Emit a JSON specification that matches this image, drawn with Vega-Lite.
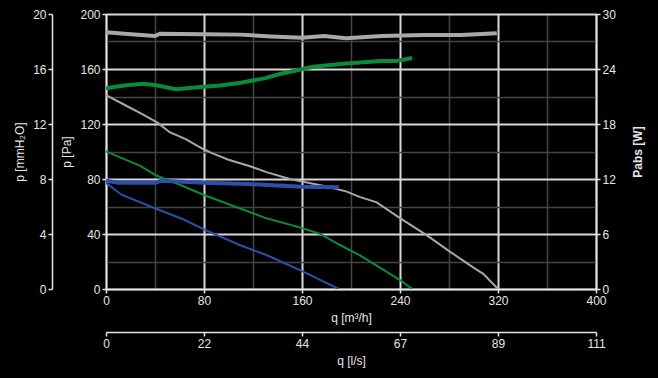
{
  "$schema": "https://vega.github.io/schema/vega-lite/v6.json",
  "width": 490,
  "height": 275,
  "autosize": {"type": "none"},
  "padding": {"left": 106, "top": 14, "right": 62, "bottom": 89},
  "background": "#000000",
  "config": {
    "view": {"stroke": null},
    "font": "Liberation Sans",
    "axis": {
      "labelFont": "Liberation Sans",
      "labelFontSize": 12,
      "labelColor": "#e6e6e6",
      "titleFont": "Liberation Sans",
      "titleFontSize": 12,
      "titleFontWeight": "normal",
      "titleColor": "#e6e6e6",
      "domainColor": "#e6e6e6",
      "domainWidth": 1.5,
      "tickColor": "#e6e6e6",
      "tickWidth": 1.5,
      "tickSize": 4,
      "labelPadding": 2
    }
  },
  "data": {
    "values": [
      {"series": "A", "kind": "p", "q": 0, "value": 141},
      {"series": "A", "kind": "p", "q": 15, "value": 134},
      {"series": "A", "kind": "p", "q": 30, "value": 127},
      {"series": "A", "kind": "p", "q": 42, "value": 121},
      {"series": "A", "kind": "p", "q": 52, "value": 114},
      {"series": "A", "kind": "p", "q": 65, "value": 109},
      {"series": "A", "kind": "p", "q": 79, "value": 102},
      {"series": "A", "kind": "p", "q": 86, "value": 99},
      {"series": "A", "kind": "p", "q": 100, "value": 94},
      {"series": "A", "kind": "p", "q": 117, "value": 89.5},
      {"series": "A", "kind": "p", "q": 131, "value": 85},
      {"series": "A", "kind": "p", "q": 150, "value": 80},
      {"series": "A", "kind": "p", "q": 161, "value": 78},
      {"series": "A", "kind": "p", "q": 180, "value": 74.5},
      {"series": "A", "kind": "p", "q": 196, "value": 71},
      {"series": "A", "kind": "p", "q": 207, "value": 67},
      {"series": "A", "kind": "p", "q": 221, "value": 63},
      {"series": "A", "kind": "p", "q": 240, "value": 51.5},
      {"series": "A", "kind": "p", "q": 262, "value": 39},
      {"series": "A", "kind": "p", "q": 281, "value": 27},
      {"series": "A", "kind": "p", "q": 300, "value": 15.5},
      {"series": "A", "kind": "p", "q": 308, "value": 11},
      {"series": "A", "kind": "p", "q": 320, "value": 0},
      {"series": "B", "kind": "p", "q": 0, "value": 100},
      {"series": "B", "kind": "p", "q": 28, "value": 89.5},
      {"series": "B", "kind": "p", "q": 40, "value": 83},
      {"series": "B", "kind": "p", "q": 50, "value": 79.5},
      {"series": "B", "kind": "p", "q": 65, "value": 74},
      {"series": "B", "kind": "p", "q": 80, "value": 68.4},
      {"series": "B", "kind": "p", "q": 104, "value": 60.4},
      {"series": "B", "kind": "p", "q": 131, "value": 51.4},
      {"series": "B", "kind": "p", "q": 158, "value": 44.8},
      {"series": "B", "kind": "p", "q": 175, "value": 40},
      {"series": "B", "kind": "p", "q": 191, "value": 32},
      {"series": "B", "kind": "p", "q": 207, "value": 24.7},
      {"series": "B", "kind": "p", "q": 218, "value": 18.7},
      {"series": "B", "kind": "p", "q": 240, "value": 6.5},
      {"series": "B", "kind": "p", "q": 250, "value": 0},
      {"series": "C", "kind": "p", "q": 0, "value": 77},
      {"series": "C", "kind": "p", "q": 13, "value": 68.4},
      {"series": "C", "kind": "p", "q": 40, "value": 58.7},
      {"series": "C", "kind": "p", "q": 63, "value": 50.7},
      {"series": "C", "kind": "p", "q": 80, "value": 43.4},
      {"series": "C", "kind": "p", "q": 109, "value": 32},
      {"series": "C", "kind": "p", "q": 131, "value": 24.7},
      {"series": "C", "kind": "p", "q": 161, "value": 12.6},
      {"series": "C", "kind": "p", "q": 190, "value": 0},
      {"series": "A", "kind": "P", "q": 0, "value": 28.0},
      {"series": "A", "kind": "P", "q": 15, "value": 27.85},
      {"series": "A", "kind": "P", "q": 40, "value": 27.6},
      {"series": "A", "kind": "P", "q": 44, "value": 27.85},
      {"series": "A", "kind": "P", "q": 80, "value": 27.8},
      {"series": "A", "kind": "P", "q": 110, "value": 27.75},
      {"series": "A", "kind": "P", "q": 135, "value": 27.55},
      {"series": "A", "kind": "P", "q": 160, "value": 27.4},
      {"series": "A", "kind": "P", "q": 178, "value": 27.6},
      {"series": "A", "kind": "P", "q": 196, "value": 27.35},
      {"series": "A", "kind": "P", "q": 225, "value": 27.6},
      {"series": "A", "kind": "P", "q": 260, "value": 27.7},
      {"series": "A", "kind": "P", "q": 290, "value": 27.7},
      {"series": "A", "kind": "P", "q": 319, "value": 27.9},
      {"series": "B", "kind": "P", "q": 0, "value": 21.9},
      {"series": "B", "kind": "P", "q": 15, "value": 22.2},
      {"series": "B", "kind": "P", "q": 30, "value": 22.4},
      {"series": "B", "kind": "P", "q": 40, "value": 22.25},
      {"series": "B", "kind": "P", "q": 57, "value": 21.8},
      {"series": "B", "kind": "P", "q": 75, "value": 22.0},
      {"series": "B", "kind": "P", "q": 93, "value": 22.2},
      {"series": "B", "kind": "P", "q": 110, "value": 22.5},
      {"series": "B", "kind": "P", "q": 130, "value": 23.0},
      {"series": "B", "kind": "P", "q": 142, "value": 23.45},
      {"series": "B", "kind": "P", "q": 169, "value": 24.25},
      {"series": "B", "kind": "P", "q": 196, "value": 24.6},
      {"series": "B", "kind": "P", "q": 224, "value": 24.87},
      {"series": "B", "kind": "P", "q": 237, "value": 24.87},
      {"series": "B", "kind": "P", "q": 250, "value": 25.2},
      {"series": "C", "kind": "P", "q": 0, "value": 11.82},
      {"series": "C", "kind": "P", "q": 10, "value": 11.6},
      {"series": "C", "kind": "P", "q": 40, "value": 11.6},
      {"series": "C", "kind": "P", "q": 45, "value": 11.8},
      {"series": "C", "kind": "P", "q": 80, "value": 11.6},
      {"series": "C", "kind": "P", "q": 115, "value": 11.45},
      {"series": "C", "kind": "P", "q": 140, "value": 11.3},
      {"series": "C", "kind": "P", "q": 160, "value": 11.15},
      {"series": "C", "kind": "P", "q": 190, "value": 11.1}
    ]
  },
  "layer": [
    {
      "transform": [{"filter": "datum.kind === 'p'"}],
      "mark": {"type": "line", "strokeWidth": 2, "clip": true},
      "encoding": {
        "x": {
          "field": "q", "type": "quantitative",
          "scale": {"domain": [0, 400], "nice": false, "zero": false},
          "axis": {
            "title": "q [m³/h]",
            "orient": "bottom",
            "values": [0, 40, 80, 120, 160, 200, 240, 280, 320, 360, 400],
            "labelExpr": "datum.value % 80 === 0 ? datum.label : ''",
            "tickOpacity": {"condition": {"test": "datum.value % 80 !== 0", "value": 0}, "value": 1},
            "grid": true,
            "gridColor": {"condition": {"test": "datum.value % 80 === 0", "value": "#d8d8d8"}, "value": "#444444"},
            "gridWidth": {"condition": {"test": "datum.value % 80 === 0", "value": 2}, "value": 1.5},
            "titlePadding": 6,
            "labelFlush": false
          }
        },
        "y": {
          "field": "value", "type": "quantitative",
          "scale": {"domain": [0, 200], "nice": false},
          "axis": {
            "title": "p [Pa]",
            "orient": "left",
            "values": [0, 20, 40, 60, 80, 100, 120, 140, 160, 180, 200],
            "labelExpr": "datum.value % 40 === 0 ? datum.label : ''",
            "tickOpacity": {"condition": {"test": "datum.value % 40 !== 0", "value": 0}, "value": 1},
            "grid": true,
            "gridColor": {"condition": {"test": "datum.value % 40 === 0", "value": "#d8d8d8"}, "value": "#444444"},
            "gridWidth": {"condition": {"test": "datum.value % 40 === 0", "value": 2}, "value": 1.5},
            "titlePadding": 6,
            "titleAngle": -90,
            "labelFlush": false
          }
        },
        "color": {
          "field": "series", "type": "nominal",
          "scale": {"domain": ["A", "B", "C"], "range": ["#a8a8a8", "#0c8a3c", "#2c4fa8"]},
          "legend": null
        }
      }
    },
    {
      "transform": [{"filter": "datum.kind === 'P'"}],
      "mark": {"type": "line", "strokeWidth": 4, "clip": true},
      "encoding": {
        "x": {
          "field": "q", "type": "quantitative",
          "scale": {"domain": [0, 400], "nice": false, "zero": false},
          "axis": null
        },
        "y": {
          "field": "value", "type": "quantitative",
          "scale": {"domain": [0, 30], "nice": false},
          "axis": {
            "title": "Pabs [W]",
            "titleFontWeight": "bold",
            "orient": "right",
            "values": [0, 6, 12, 18, 24, 30],
            "grid": false,
            "titlePadding": 29,
            "titleAngle": -90,
            "labelFlush": false
          }
        },
        "color": {
          "field": "series", "type": "nominal",
          "scale": {"domain": ["A", "B", "C"], "range": ["#a8a8a8", "#0c8a3c", "#2c4fa8"]},
          "legend": null
        }
      }
    },
    {
      "transform": [{"filter": "datum.kind === 'p'"}],
      "mark": {"type": "point", "opacity": 0, "clip": true},
      "encoding": {
        "x": {
          "field": "q", "type": "quantitative",
          "scale": {"domain": [0, 400], "nice": false, "zero": false},
          "axis": null
        },
        "y": {
          "field": "value", "type": "quantitative",
          "scale": {"domain": [0, 20], "nice": false},
          "axis": {
            "title": "p [mmH₂O]",
            "orient": "left",
            "offset": 54,
            "values": [0, 4, 8, 12, 16, 20],
            "grid": false,
            "titlePadding": 6,
            "titleAngle": -90,
            "labelFlush": false
          }
        }
      }
    },
    {
      "transform": [{"filter": "datum.kind === 'p'"}],
      "mark": {"type": "point", "opacity": 0, "clip": true},
      "encoding": {
        "x": {
          "field": "q", "type": "quantitative",
          "scale": {"domain": [0, 111.111], "nice": false, "zero": false},
          "axis": {
            "title": "q [l/s]",
            "orient": "bottom",
            "offset": 43,
            "values": [0, 22.222, 44.444, 66.667, 88.889, 111.111],
            "format": ".0f",
            "grid": false,
            "titlePadding": 6,
            "labelFlush": false
          }
        }
      }
    }
  ],
  "resolve": {"scale": {"x": "independent", "y": "independent", "color": "shared"}}
}
